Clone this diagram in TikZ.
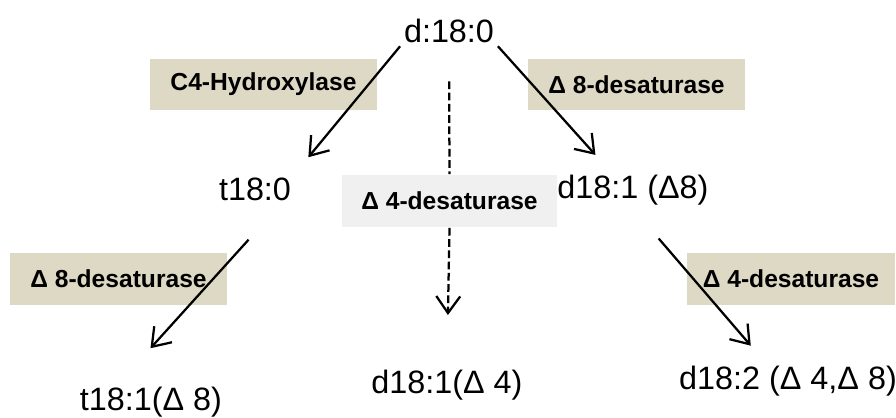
\documentclass[tikz,border=0pt]{standalone}
\usepackage{fontspec}
\setmainfont{Liberation Sans}
\usetikzlibrary{arrows.meta}
\definecolor{tanbox}{RGB}{221,217,196}
\definecolor{greybox}{RGB}{240,240,240}
\tikzstyle{lipid}=[inner sep=2pt,anchor=base,font=\fontsize{23}{27}\selectfont]
\tikzstyle{enzyme}=[rectangle,fill=tanbox,inner sep=0pt,minimum height=1.29cm,
font=\bfseries\fontsize{17.5}{20}\selectfont]
\tikzstyle{genzyme}=[enzyme,fill=greybox]

\begin{document}
\begin{tikzpicture}[x=0.025cm,y=-0.025cm,line width=1.6pt,
        >={Straight Barb[length=12pt,width=17pt]}]
            \useasboundingbox (0,0) rectangle (896,417);

            % ENZYMES

            \node[enzyme,minimum width=5.675cm] (hydrox) at (263.5,84.5) {C4-Hydroxylase};
            \node[enzyme,minimum width=5.425cm] (desat8a) at (636.5,84.5) {Δ 8-desaturase};
            \node[genzyme,minimum width=5.375cm] (desat4a) at (449.5,201) {Δ 4-desaturase};
            \node[enzyme,minimum width=5.425cm] (desat8b) at (118.5,279) {Δ 8-desaturase};
            \node[enzyme,minimum width=5.2cm] (desat4b) at (791,279) {Δ 4-desaturase};

            % LIPIDS

            \node[lipid] (d180) at (449,42) {d:18:0};
            \node[lipid] (t180) at (255,200) {t18:0};
            \node[lipid] (d181a) at (633,198) {d18:1 (Δ8)};
            \node[lipid] (t181) at (151,410) {t18:1(Δ 8)};
            \node[lipid] (d181b) at (447,393) {d18:1(Δ 4)};
            \node[lipid] (d182) at (788,389) {d18:2 (Δ 4,Δ 8)};

            % Reactions

            \path[->] (d180.south west) edge[shorten >=15pt] (t180.north east);
            \path[->] (d180.south east) edge[shorten >=15pt] (d181a.141);
            \path[->] (t180.-31) edge[shorten <=34pt,shorten >=33pt] (t181.149);
            \path[->] (d181a.south) edge[shorten <=28pt,shorten >=15pt] (d182.141);

            %\path[->,dashed] (d180) edge (d181b);
            \path[dash pattern=on 5.5pt off 2.5pt] (d180.south) edge[shorten <=25pt] (desat4a.north);
            \path[->,dash pattern=on 5.5pt off 2.5pt] (desat4a.south) edge[shorten >=36pt] (d181b.north);

        \end{tikzpicture}
\end{document}
